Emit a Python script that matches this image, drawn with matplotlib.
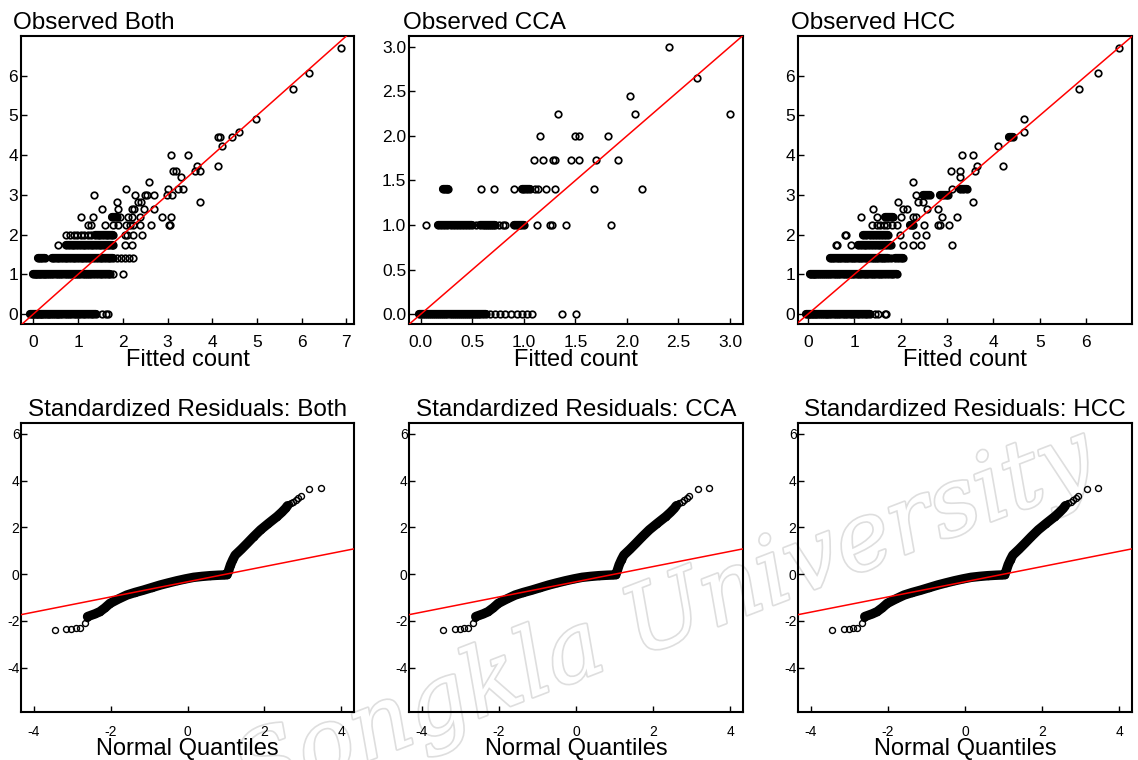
import matplotlib
matplotlib.use('Agg')
import matplotlib.pyplot as plt
import matplotlib.patheffects as pe

plt.rcParams['font.family'] = ['Liberation Sans', 'DejaVu Sans']
plt.rcParams['axes.unicode_minus'] = False

# ---------------- data: observed (sqrt count) levels and fitted counts ----------------
both_levels = [0, 1, 1.41, 1.73, 2.0, 2.24, 2.45, 2.65, 2.83, 3.0, 3.16, 3.32, 3.46,
               3.61, 3.74, 4.0, 4.24, 4.47, 4.58, 4.9, 5.66, 6.08, 6.71]
both_fitted = [
    [-0.07, -0.04, -0.01, 0.02, 0.05, 0.08, 0.11, 0.14, 0.17, 0.2, 0.24, 0.28, 0.32, 0.36,
     0.4, 0.44, 0.48, 0.52, 0.56, 0.6, 0.65, 0.7, 0.75, 0.8, 0.85, 0.9, 0.95, 1.0, 1.05,
     1.1, 1.16, 1.22, 1.28, 1.34, 1.41, 1.53, 1.62, 1.68],
    [0.0, 0.03, 0.06, 0.09, 0.12, 0.15, 0.19, 0.23, 0.27, 0.31, 0.35, 0.4, 0.45, 0.5, 0.55,
     0.6, 0.65, 0.7, 0.75, 0.8, 0.85, 0.9, 0.95, 1.0, 1.05, 1.1, 1.15, 1.2, 1.25, 1.3, 1.36,
     1.42, 1.48, 1.54, 1.6, 1.66, 1.71, 1.79, 2.01],
    [0.11, 0.16, 0.2, 0.26, 0.41, 0.46, 0.52, 0.58, 0.64, 0.7, 0.76, 0.82, 0.88, 0.94, 1.0,
     1.06, 1.12, 1.18, 1.24, 1.3, 1.36, 1.42, 1.48, 1.54, 1.6, 1.66, 1.72, 1.78, 1.88, 1.97,
     2.06, 2.15, 2.22],
    [0.56, 0.74, 0.8, 0.86, 0.92, 0.98, 1.04, 1.1, 1.16, 1.22, 1.28, 1.34, 1.4, 1.46, 1.52,
     1.58, 1.64, 1.7, 1.76, 1.79, 2.05, 2.2],
    [0.74, 0.82, 0.9, 0.98, 1.06, 1.14, 1.22, 1.3, 1.38, 1.44, 1.5, 1.56, 1.62, 1.68, 1.74,
     1.79, 2.04, 2.1, 2.23, 2.44],
    [1.23, 1.3, 1.6, 1.79, 1.9, 2.08, 2.16, 2.23, 2.38, 2.64, 3.03, 3.05],
    [1.06, 1.34, 1.75, 1.82, 1.86, 1.94, 2.12, 2.2, 2.38, 2.87, 3.07],
    [1.53, 1.9, 2.2, 2.25, 2.48, 2.7],
    [1.86, 2.35, 2.4, 3.72],
    [1.36, 2.27, 2.5, 2.54, 2.7, 2.98, 3.11],
    [2.08, 3.0, 3.24, 3.35],
    [2.58],
    [3.31],
    [3.13, 3.2, 3.61, 3.72],
    [3.65, 4.14],
    [3.07, 3.45],
    [4.21],
    [4.13, 4.18, 4.45],
    [4.59],
    [4.97],
    [5.81],
    [6.16],
    [6.87],
]

cca_levels = [0, 1.0, 1.41, 1.73, 2.0, 2.24, 2.45, 2.65, 3.0]
cca_fitted = [
    [-0.02, 0.0, 0.02, 0.04, 0.06, 0.08, 0.1, 0.12, 0.14, 0.16, 0.18, 0.2, 0.22, 0.24, 0.26,
     0.28, 0.3, 0.32, 0.34, 0.36, 0.38, 0.4, 0.42, 0.44, 0.46, 0.48, 0.5, 0.52, 0.54, 0.56,
     0.58, 0.6, 0.63, 0.67, 0.72, 0.77, 0.82, 0.88, 0.93, 0.98, 1.03, 1.08, 1.37, 1.51],
    [0.05, 0.17, 0.2, 0.23, 0.26, 0.29, 0.32, 0.35, 0.38, 0.41, 0.44, 0.47, 0.5, 0.54, 0.58,
     0.6, 0.62, 0.64, 0.66, 0.68, 0.7, 0.72, 0.76, 0.8, 0.82, 0.91, 0.93, 0.95, 0.97, 1.0,
     1.13, 1.25, 1.27, 1.41, 1.85],
    [0.22, 0.24, 0.26, 0.27, 0.59, 0.71, 0.91, 0.98, 1.0, 1.03, 1.06, 1.11, 1.14, 1.22, 1.3,
     1.68, 2.15],
    [1.1, 1.19, 1.28, 1.3, 1.46, 1.54, 1.7, 1.91],
    [1.16, 1.5, 1.54, 1.82],
    [1.33, 2.08, 3.0],
    [2.03],
    [2.68],
    [2.41],
]

hcc_levels = [0, 1, 1.41, 1.73, 2.0, 2.24, 2.45, 2.65, 2.83, 3.0, 3.16, 3.32, 3.46,
              3.61, 3.74, 4.0, 4.24, 4.47, 4.58, 4.9, 5.66, 6.08, 6.71]
hcc_fitted = [
    [-0.04, -0.01, 0.02, 0.05, 0.08, 0.11, 0.14, 0.18, 0.22, 0.26, 0.3, 0.34, 0.38, 0.42,
     0.46, 0.5, 0.55, 0.6, 0.65, 0.7, 0.75, 0.8, 0.85, 0.9, 0.95, 1.0, 1.05, 1.1, 1.16,
     1.22, 1.28, 1.33, 1.44, 1.51, 1.66, 1.69],
    [0.04, 0.07, 0.1, 0.13, 0.16, 0.2, 0.24, 0.28, 0.32, 0.36, 0.4, 0.45, 0.5, 0.55, 0.6,
     0.65, 0.7, 0.75, 0.8, 0.85, 0.9, 0.95, 1.0, 1.05, 1.1, 1.15, 1.2, 1.25, 1.3, 1.35, 1.4,
     1.45, 1.5, 1.55, 1.6, 1.66, 1.72, 1.78, 1.84, 1.91],
    [0.47, 0.52, 0.57, 0.62, 0.67, 0.72, 0.77, 0.82, 0.87, 0.92, 0.97, 1.02, 1.07, 1.12,
     1.17, 1.22, 1.27, 1.32, 1.37, 1.42, 1.47, 1.52, 1.57, 1.62, 1.67, 1.72, 1.8, 1.88,
     1.95, 2.0, 2.05],
    [0.6, 0.62, 0.92, 1.08, 1.14, 1.2, 1.26, 1.32, 1.38, 1.44, 1.5, 1.56, 1.62, 1.68, 1.74,
     1.8, 2.04, 2.27, 2.43, 3.1],
    [0.79, 0.82, 1.19, 1.26, 1.33, 1.4, 1.47, 1.54, 1.6, 1.66, 1.73, 1.98, 2.33, 2.55],
    [1.37, 1.48, 1.56, 1.65, 1.7, 1.82, 1.92, 2.2, 2.24, 2.27, 2.5, 2.81, 2.85, 3.05],
    [1.14, 1.48, 1.66, 1.72, 1.78, 1.84, 2.0, 2.27, 2.34, 2.88, 3.21],
    [1.41, 2.04, 2.13, 2.57, 2.81],
    [1.95, 2.38, 2.49, 3.57],
    [2.34, 2.49, 2.56, 2.63, 2.85, 2.92, 2.97, 3.03],
    [3.1, 3.28, 3.35, 3.42],
    [2.26],
    [3.28],
    [3.09, 3.27, 3.6],
    [3.64, 4.2],
    [3.32, 3.57],
    [4.09],
    [4.33, 4.36, 4.43],
    [4.67],
    [4.67],
    [5.85],
    [6.26],
    [6.71],
]

# ---------------- data: normal QQ plot of standardized residuals (same in all three) ----
qq_tail_lo_x = [-3.45, -3.15, -3.02, -2.9, -2.8, -2.67, -2.61]
qq_tail_lo_y = [-2.4, -2.33, -2.36, -2.29, -2.29, -2.11, -1.87]
qq_band_x = [-2.6, -2.5, -2.4, -2.28, -2.15, -2.02, -1.8, -1.58, -1.37, -1.15, -0.93, -0.71,
             -0.5, -0.28, -0.06, 0.16, 0.38, 0.59, 0.8, 0.95, 1.03, 1.07, 1.12, 1.18, 1.24,
             1.4, 1.55, 1.72, 1.9, 2.1, 2.33, 2.45, 2.55, 2.6]
qq_band_y = [-1.82, -1.76, -1.7, -1.61, -1.45, -1.26, -1.07, -0.9, -0.79, -0.69, -0.58,
             -0.47, -0.38, -0.29, -0.21, -0.14, -0.1, -0.07, -0.05, -0.04, -0.03, 0.15, 0.4,
             0.62, 0.81, 1.06, 1.31, 1.6, 1.89, 2.16, 2.46, 2.64, 2.81, 2.92]
qq_tail_hi_x = [2.63, 2.68, 2.75, 2.81, 2.88, 2.94, 3.16, 3.46]
qq_tail_hi_y = [2.98, 3.03, 3.1, 3.17, 3.24, 3.34, 3.63, 3.7]
qq_line_intercept = -0.33
qq_line_slope = 0.325

top_titles = ['Observed Both', 'Observed CCA', 'Observed HCC']
bottom_titles = ['Standardized Residuals: Both', 'Standardized Residuals: CCA',
                 'Standardized Residuals: HCC']

# ---------------- layout (pixels) ----------------
W, H = 1138, 760
fig = plt.figure(figsize=(W / 100, H / 100), dpi=100)
fig.patch.set_facecolor('white')

cols = [(21, 354), (409, 743), (798, 1132)]
top_rows = (36, 324)
bot_rows = (423, 712)
top_title_x = [13, 403, 791]

MS, MEW = 4.7, 1.25
BAR_LW = MS + MEW


def make_ax(col, row):
    l, r = col
    t, b = row
    ax = fig.add_axes([l / W, 1 - b / H, (r - l) / W, (b - t) / H])
    ax.set_facecolor('none')
    for s in ax.spines.values():
        s.set_linewidth(1.5)
        s.set_color('black')
    return ax


# watermark (behind the transparent axes)
fig.text(0.585, 0.185, 'Songkla University', rotation=21, fontsize=68,
         family='DejaVu Serif', style='italic', color='white', ha='center', va='center',
         zorder=-5,
         path_effects=[pe.withStroke(linewidth=2.4, foreground='#dedede')])

top_data = [(both_levels, both_fitted), (cca_levels, cca_fitted), (hcc_levels, hcc_fitted)]
top_xlims = [(-0.276, 7.17), (-0.113, 3.126), (-0.216, 6.99)]
top_ylims = [(-0.25, 7.0), (-0.109, 3.12), (-0.25, 7.0)]
top_xticks = [[0, 1, 2, 3, 4, 5, 6, 7], [0, 0.5, 1.0, 1.5, 2.0, 2.5, 3.0], [0, 1, 2, 3, 4, 5, 6]]
top_yticks = [[0, 1, 2, 3, 4, 5, 6], [0, 0.5, 1.0, 1.5, 2.0, 2.5, 3.0], [0, 1, 2, 3, 4, 5, 6]]
top_fmt = ['{:.0f}', '{:.1f}', '{:.0f}']
dense_gap = [0.075, 0.035, 0.075]

for i in range(3):
    ax = make_ax(cols[i], top_rows)
    levels, fitted = top_data[i]
    for lv, xs in zip(levels, fitted):
        # overlapping circles in dense runs merge into a solid bar
        run = [xs[0]]
        for a, b in zip(xs[:-1], xs[1:]):
            if b - a <= dense_gap[i]:
                run.append(b)
            else:
                if len(run) >= 3:
                    ax.plot(run, [lv] * len(run), color='black', linewidth=BAR_LW,
                            solid_capstyle='round', zorder=3)
                run = [b]
        if len(run) >= 3:
            ax.plot(run, [lv] * len(run), color='black', linewidth=BAR_LW,
                    solid_capstyle='round', zorder=3)
        ax.plot(xs, [lv] * len(xs), linestyle='none', marker='o', markersize=MS,
                markerfacecolor='none', markeredgecolor='black', markeredgewidth=MEW,
                zorder=3)
    ax.axline((0, 0), slope=1, color='red', linewidth=1.1, zorder=4)
    ax.set_xlim(*top_xlims[i])
    ax.set_ylim(*top_ylims[i])
    ax.set_xticks(top_xticks[i])
    ax.set_yticks(top_yticks[i])
    ax.set_xticklabels([top_fmt[i].format(v) for v in top_xticks[i]])
    ax.set_yticklabels([top_fmt[i].format(v) for v in top_yticks[i]])
    ax.tick_params(direction='in', length=4, width=1.0, labelsize=12.5, colors='black')
    ax.tick_params(axis='x', pad=8)
    ax.tick_params(axis='y', pad=2)
    fig.text(top_title_x[i] / W, 1 - 29 / H, top_titles[i], fontsize=17.5,
             ha='left', va='baseline')
    cx = (cols[i][0] + cols[i][1]) / 2
    fig.text(cx / W, 1 - 366 / H, 'Fitted count', fontsize=17, ha='center', va='baseline')

for i in range(3):
    ax = make_ax(cols[i], bot_rows)
    ax.plot(qq_band_x, qq_band_y, color='black', linewidth=6.8, solid_capstyle='round',
            solid_joinstyle='round', zorder=2)
    ax.plot(qq_band_x, qq_band_y, linestyle='none', marker='o', markersize=4.3,
            markerfacecolor='none', markeredgecolor='black', markeredgewidth=1.0, zorder=3)
    ax.plot(qq_tail_lo_x, qq_tail_lo_y, linestyle='none', marker='o', markersize=4.3,
            markerfacecolor='none', markeredgecolor='black', markeredgewidth=1.0, zorder=3)
    ax.plot(qq_tail_hi_x, qq_tail_hi_y, linestyle='none', marker='o', markersize=4.3,
            markerfacecolor='none', markeredgecolor='black', markeredgewidth=1.0, zorder=3)
    ax.axline((0, qq_line_intercept), slope=qq_line_slope, color='red', linewidth=1.1,
              zorder=4)
    ax.set_xlim(-4.33, 4.33)
    ax.set_ylim(-5.9, 6.46)
    ax.set_xticks([-4, -2, 0, 2, 4])
    ax.set_yticks([-4, -2, 0, 2, 4, 6])
    ax.tick_params(direction='in', length=4, width=1.0, labelsize=10, colors='black')
    ax.tick_params(axis='x', pad=9)
    ax.tick_params(axis='y', pad=1)
    cx = (cols[i][0] + cols[i][1]) / 2
    fig.text(cx / W, 1 - 416 / H, bottom_titles[i], fontsize=17.5, ha='center',
             va='baseline')
    fig.text(cx / W, 1 - 755 / H, 'Normal Quantiles', fontsize=17, ha='center',
             va='baseline')

fig.savefig('out.png', dpi=100, facecolor='white')
